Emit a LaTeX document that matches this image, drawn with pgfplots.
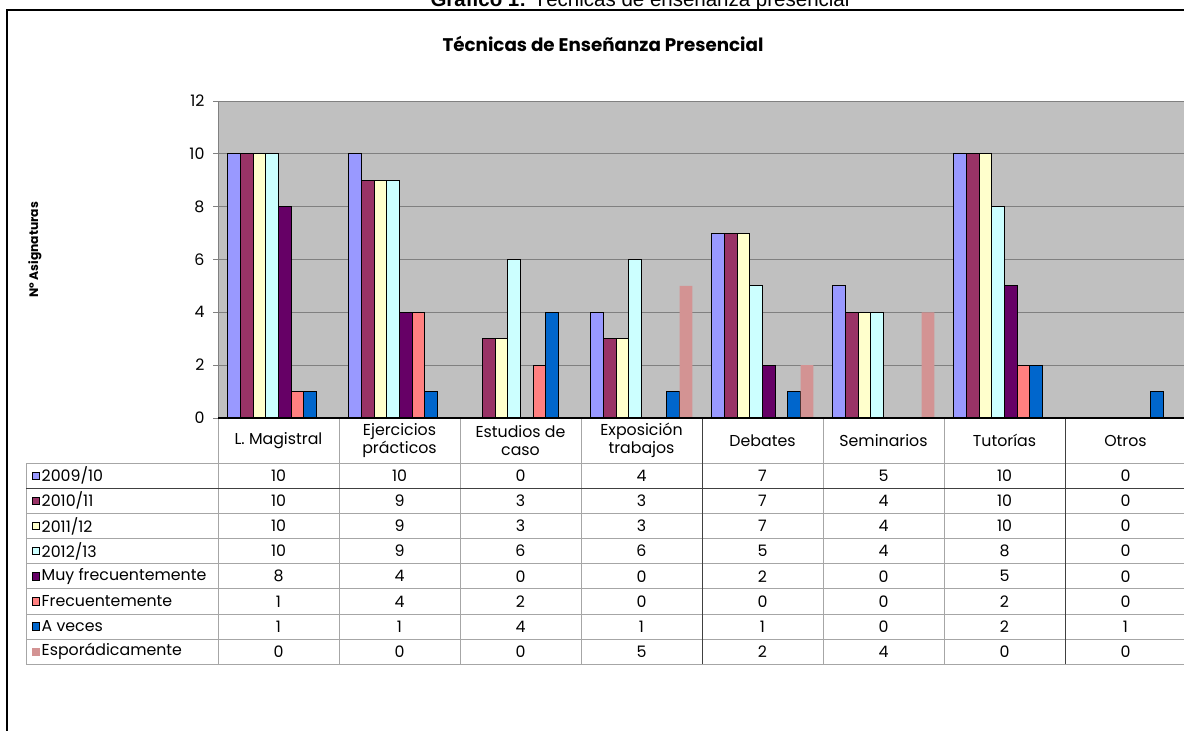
\documentclass[border=0pt]{standalone}
\usepackage{pgfplots}
\pgfplotsset{compat=1.18}
\usepackage{pgfplotstable}
\usepackage{fontspec}
\setmainfont{Poppins}
\newfontfamily\arialfont{Liberation Sans}

\definecolor{cA}{HTML}{9999FF}
\definecolor{cB}{HTML}{993366}
\definecolor{cC}{HTML}{FFFFCC}
\definecolor{cD}{HTML}{CCFFFF}
\definecolor{cE}{HTML}{660066}
\definecolor{cF}{HTML}{FF8080}
\definecolor{cG}{HTML}{0066CC}
\definecolor{cH}{HTML}{D39393}
\definecolor{plotbg}{HTML}{C0C0C0}
\definecolor{gridc}{HTML}{808080}
\definecolor{tabc}{HTML}{A6A6A6}

\pgfplotstableread{
cat sA sB sC sD sE sF sG sH
0 10 10 10 10 8 1 1 0
1 10 9 9 9 4 4 1 0
2 0 3 3 6 0 2 4 0
3 4 3 3 6 0 0 1 5
4 7 7 7 5 2 0 1 2
5 5 4 4 4 0 0 0 4
6 10 10 10 8 5 2 2 0
7 0 0 0 0 0 0 1 0
}\datatable

\newcommand\tabfont{\fontsize{15.8}{18.5}\selectfont}
\newcommand\legrow[4]{%
  \filldraw[fill=#3, draw=#4, line width=0.8pt] (32,{475.6+25.15*#1-3.7}) rectangle (39.5,{475.6+25.15*#1+3.7});
  \node[anchor=west, inner sep=0pt, font=\tabfont] at (41.5,{475.6+25.15*#1}) {#2};
}

\begin{document}
\begin{tikzpicture}
\useasboundingbox (0pt,0pt) rectangle (1184pt,-731pt);
\begin{axis}[
  at={(218pt,-418pt)}, anchor=south west,
  width=968pt, height=317pt, scale only axis,
  xmin=-0.5, xmax=7.5, ymin=0, ymax=12,
  ytick={0,2,...,12}, xtick=\empty,
  ytick pos=left,
  tick align=outside, major tick length=5pt,
  tick style={gridc, line width=0.8pt},
  /pgf/number format/assume math mode=true,
  yticklabel style={font=\tabfont, text=black, xshift=-5pt},
  axis background/.style={fill=plotbg},
  ymajorgrids, grid style={gridc, line width=0.9pt},
  axis line style={gridc, line width=0.9pt},
  clip=false,
  restrict y to domain=0.5:100,
  every axis plot/.append style={ybar, bar width=0.105, line width=0.9pt},
]
\addplot[fill=cA, draw=black, bar shift=-0.3675] table[x=cat,y=sA]{\datatable};
\addplot[fill=cB, draw=black, bar shift=-0.2625] table[x=cat,y=sB]{\datatable};
\addplot[fill=cC, draw=black, bar shift=-0.1575] table[x=cat,y=sC]{\datatable};
\addplot[fill=cD, draw=black, bar shift=-0.0525] table[x=cat,y=sD]{\datatable};
\addplot[fill=cE, draw=black, bar shift=0.0525] table[x=cat,y=sE]{\datatable};
\addplot[fill=cF, draw=black, bar shift=0.1575] table[x=cat,y=sF]{\datatable};
\addplot[fill=cG, draw=black, bar shift=0.2625] table[x=cat,y=sG]{\datatable};
\addplot[fill=cH, draw=none, bar shift=0.3675] table[x=cat,y=sH]{\datatable};
\end{axis}

\begin{scope}[x=1pt,y=-1pt]
% outer frame
\draw[black, line width=2.2pt] (7,740) -- (7,10) -- (1200,10);
% page title (cut off at top)
\node[anchor=base, font=\arialfont\fontsize{20.5}{22}\selectfont] at (640,6.5) {\textbf{Gráfico 1:} Técnicas de enseñanza presencial};
% chart title
\node[font=\bfseries\fontsize{18.3}{20}\selectfont] at (603,44) {Técnicas de Enseñanza Presencial};
% y label
\node[rotate=90, font=\bfseries\fontsize{12.3}{14}\selectfont] at (35,250) {Nº Asignaturas};
% table lines
\foreach \k in {0,...,8} {
  \draw[tabc, line width=0.8pt] (26,{463+25.15*\k}) -- (1190,{463+25.15*\k});
  \draw[tabc, line width=0.8pt] ({218+121*\k},418) -- ({218+121*\k},664.2);
}
\draw[tabc, line width=0.8pt] (26,463) -- (26,664.2);
\draw[black!75, line width=0.8pt] (702,418) -- (702,664.2);
\draw[black!75, line width=0.8pt] (1065,418) -- (1065,664.2);
\draw[black!75, line width=0.8pt] (26,488.15) -- (1190,488.15);
% x axis line
\draw[black, line width=1.1pt] (218,418) -- (1190,418);
% header labels
\foreach \lab [count=\i from 0] in {L. Magistral,{Ejercicios\\prácticos},{Estudios de\\caso},{Exposición\\trabajos},Debates,Seminarios,Tutorías,Otros} {
  \node[align=center, font=\tabfont] at ({278.5+121*\i},440.5) {\lab};
}
% legend keys and names
\legrow{0}{2009/10}{cA}{black}
\legrow{1}{2010/11}{cB}{black}
\legrow{2}{2011/12}{cC}{black}
\legrow{3}{2012/13}{cD}{black}
\legrow{4}{Muy frecuentemente}{cE}{black}
\legrow{5}{Frecuentemente}{cF}{black}
\legrow{6}{A veces}{cG}{black}
\legrow{7}{Esporádicamente}{cH}{cH}
% cell values from the data table
\foreach \c [count=\r from 0] in {sA,sB,sC,sD,sE,sF,sG,sH} {
  \foreach \i in {0,...,7} {
    \pgfplotstablegetelem{\i}{\c}\of\datatable
    \node[font=\tabfont] at ({278.5+121*\i},{475.6+25.15*\r}) {\pgfplotsretval};
  }
}
\end{scope}
\end{tikzpicture}
\end{document}
